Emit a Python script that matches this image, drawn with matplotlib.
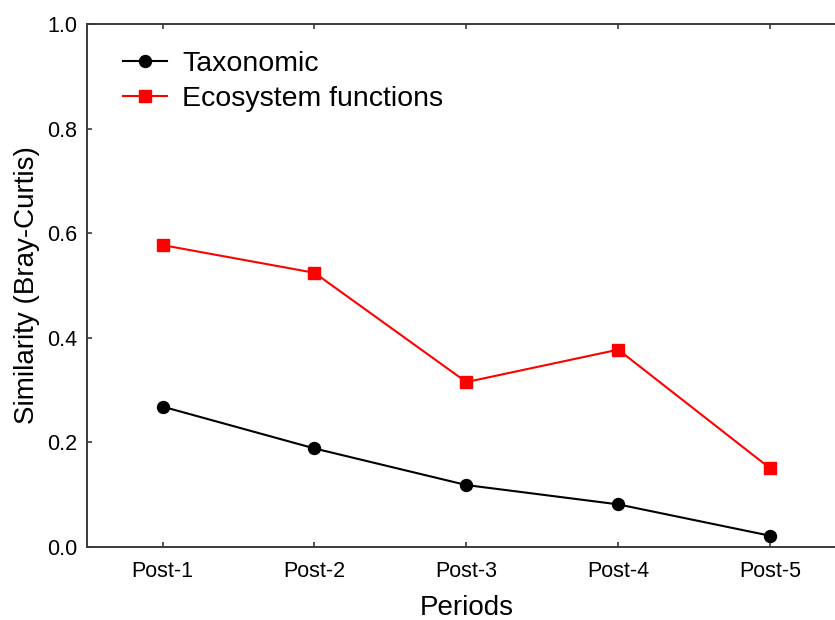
import matplotlib
matplotlib.use("Agg")
import matplotlib.pyplot as plt

periods = ["Post-1", "Post-2", "Post-3", "Post-4", "Post-5"]
taxonomic = [0.268, 0.188, 0.118, 0.081, 0.021]
ecosystem = [0.577, 0.524, 0.315, 0.377, 0.150]

plt.rcParams['font.family'] = ['Liberation Sans', 'DejaVu Sans']

fig = plt.figure(figsize=(8.35, 6.2), dpi=100)
ax = fig.add_axes([0.1038, 0.1182, 0.9094, 0.8431])

x = list(range(len(periods)))
ax.plot(x, taxonomic, color='black', lw=1.5, marker='o', ms=8.6,
        mfc='black', mec='black', label='Taxonomic')
ax.plot(x, ecosystem, color='#ff0000', lw=1.5, marker='s', ms=8.4,
        mfc='#ff0000', mec='#ff0000', label='Ecosystem functions')

ax.set_xlim(-0.5, 4.5)
ax.set_ylim(0.0, 1.0)
ax.set_xticks(x)
ax.set_xticklabels(periods, fontsize=15.5)
ax.set_yticks([0.0, 0.2, 0.4, 0.6, 0.8, 1.0])
ax.set_yticklabels(["0.0", "0.2", "0.4", "0.6", "0.8", "1.0"], fontsize=15.5)

for s in ['left', 'bottom', 'top']:
    ax.spines[s].set_color('#3a3a3a')
    ax.spines[s].set_linewidth(1.4)
ax.spines['right'].set_visible(False)

ax.tick_params(axis='x', direction='in', length=3.5, width=1.2, color='#3a3a3a',
               pad=10, top=True)
ax.tick_params(axis='y', direction='in', length=3.5, width=1.2, color='#3a3a3a',
               pad=7)

ax.set_xlabel('Periods', fontsize=20, labelpad=10)
ax.set_ylabel('Similarity (Bray-Curtis)', fontsize=20, labelpad=5)

ax.legend(loc='upper left', frameon=False, fontsize=20.5,
          handlelength=1.55, handletextpad=0.55, labelspacing=0.33, borderaxespad=0.0,
          borderpad=0.0)
leg = ax.get_legend()
leg.set_bbox_to_anchor((36 / 835 / 0.9094, 1 - 27 / 523))

fig.savefig('out.png', dpi=100)
